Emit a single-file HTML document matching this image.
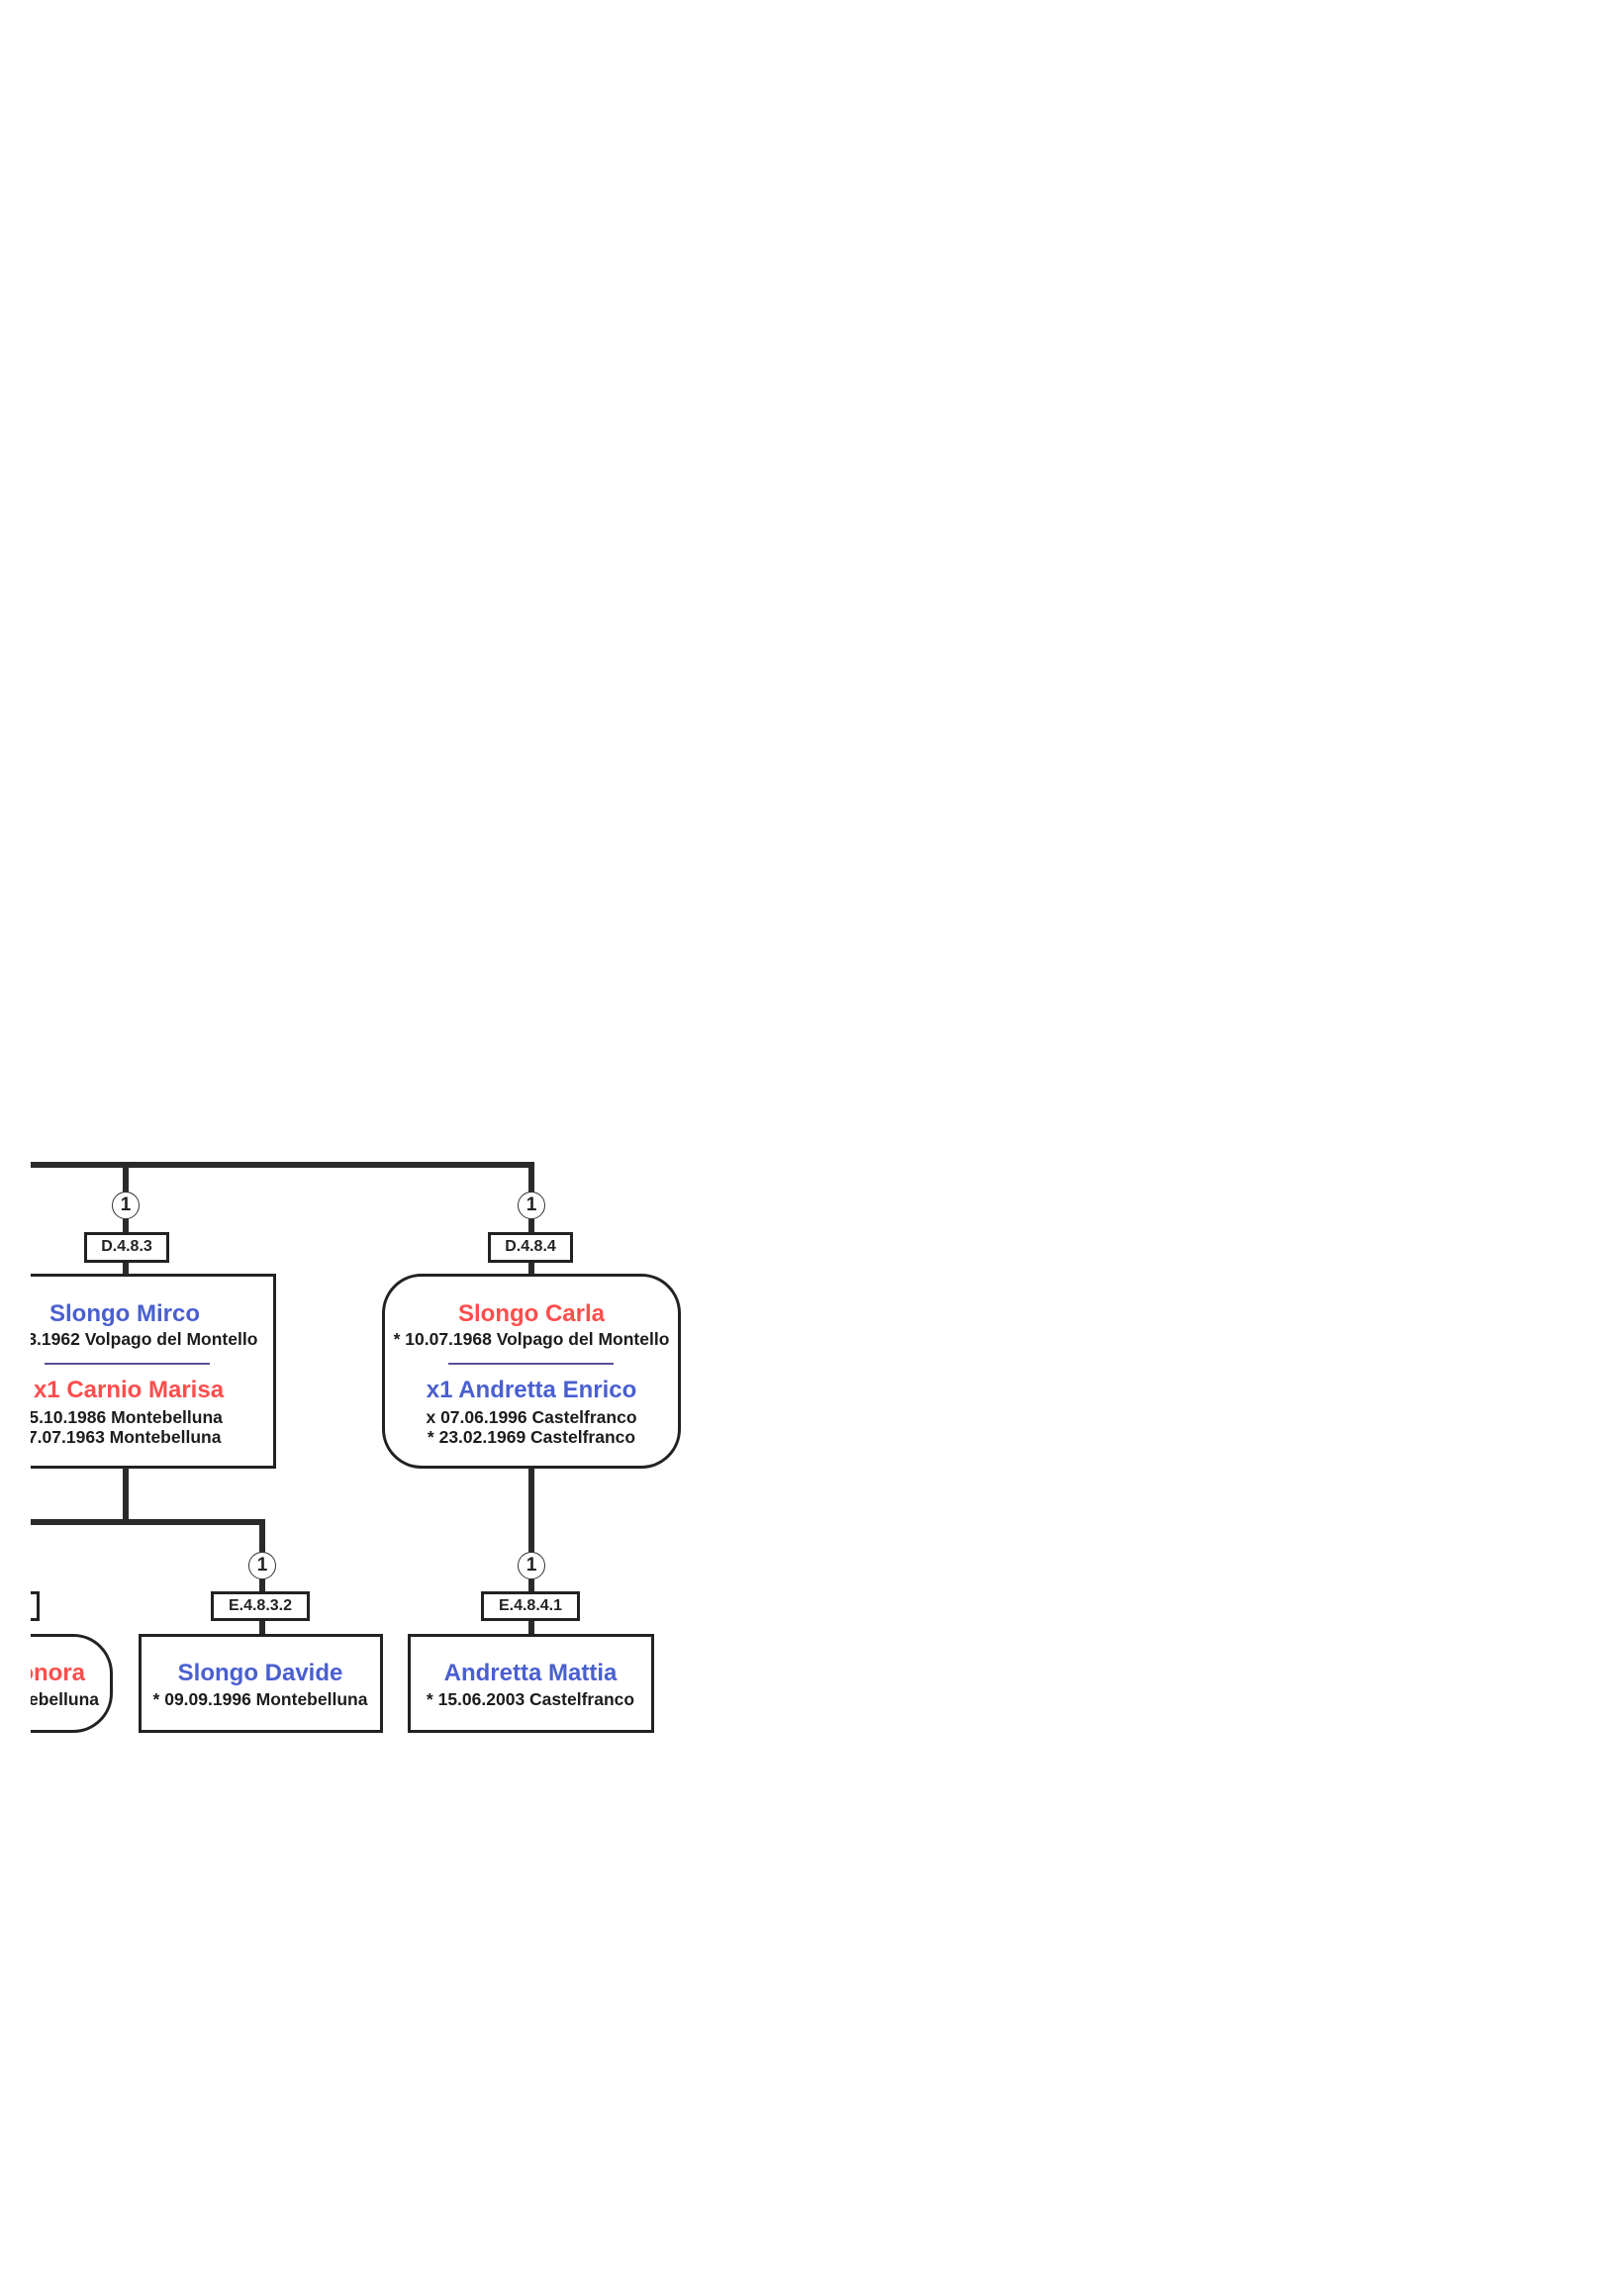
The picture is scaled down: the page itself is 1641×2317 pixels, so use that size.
<!DOCTYPE html>
<html><head><meta charset="utf-8"><style>
body{margin:0;width:1641px;height:2317px;background:#fff;position:relative;overflow:hidden;font-family:"Liberation Sans",Arial,sans-serif;}
#clip{position:absolute;left:31px;top:0;width:1610px;height:2317px;overflow:hidden;}
#in{position:absolute;left:-31px;top:0;width:1641px;height:2317px;}
.a{position:absolute;box-sizing:border-box;}
.l{position:absolute;background:#2a2a2a;}
.c{position:absolute;width:28px;height:28px;border:1.5px solid #333;border-radius:50%;background:#fff;box-sizing:border-box;font-weight:bold;font-size:19px;line-height:25px;text-align:center;color:#222;}
.lab{position:absolute;border:3px solid #222;background:#fff;box-sizing:border-box;font-weight:bold;font-size:16px;text-align:center;color:#222;}
.box{position:absolute;border:3px solid #222;background:#fff;box-sizing:border-box;}
.t{position:absolute;text-align:center;white-space:nowrap;font-weight:bold;}
.n{font-size:24px;}
.d{font-size:17.5px;color:#1c1c1c;}
.b{color:#4a5fd0;}.r{color:#ff4d4d;}
</style></head><body>
<div id="clip"><div id="in">
<div class="l" style="left:20px;top:1174px;width:520px;height:6px"></div>
<div class="l" style="left:124px;top:1174px;width:6px;height:113px"></div>
<div class="l" style="left:534px;top:1174px;width:6px;height:113px"></div>
<div class="c" style="left:113px;top:1204px">1</div>
<div class="c" style="left:523px;top:1204px">1</div>
<div class="lab" style="left:85px;top:1245px;width:86px;height:31px;line-height:24px">D.4.8.3</div>
<div class="lab" style="left:493px;top:1245px;width:86px;height:31px;line-height:24px">D.4.8.4</div>
<div class="box" style="left:-40px;top:1287px;width:319px;height:197px"></div>
<div class="t n b" style="left:-24px;width:300px;top:1314px">Slongo Mirco</div>
<div class="t d" style="left:-79px;width:400px;top:1343px">* 00.03.1962 Volpago del Montello</div>
<div class="a" style="left:45px;top:1377px;width:167px;height:1.5px;background:#5b4f9a"></div>
<div class="t n r" style="left:-20px;width:300px;top:1391px">x1 Carnio Marisa</div>
<div class="t d" style="left:-85px;width:400px;top:1422px">x 25.10.1986 Montebelluna</div>
<div class="t d" style="left:-85px;width:400px;top:1442px">* 27.07.1963 Montebelluna</div>
<div class="box" style="left:386px;top:1287px;width:302px;height:197px;border-radius:40px"></div>
<div class="t n r" style="left:387px;width:300px;top:1314px">Slongo Carla</div>
<div class="t d" style="left:337px;width:400px;top:1343px">* 10.07.1968 Volpago del Montello</div>
<div class="a" style="left:453px;top:1377px;width:167px;height:1.5px;background:#5b4f9a"></div>
<div class="t n b" style="left:387px;width:300px;top:1391px">x1 Andretta Enrico</div>
<div class="t d" style="left:337px;width:400px;top:1422px">x 07.06.1996 Castelfranco</div>
<div class="t d" style="left:337px;width:400px;top:1442px">* 23.02.1969 Castelfranco</div>
<div class="l" style="left:124px;top:1483px;width:6px;height:58px"></div>
<div class="l" style="left:20px;top:1535px;width:248px;height:6px"></div>
<div class="l" style="left:262px;top:1535px;width:6px;height:116px"></div>
<div class="l" style="left:534px;top:1483px;width:6px;height:168px"></div>
<div class="c" style="left:251px;top:1568px">1</div>
<div class="c" style="left:523px;top:1568px">1</div>
<div class="lab" style="left:213px;top:1608px;width:100px;height:30px;line-height:23px">E.4.8.3.2</div>
<div class="lab" style="left:486px;top:1608px;width:100px;height:30px;line-height:23px">E.4.8.4.1</div>
<div class="lab" style="left:-60px;top:1608px;width:100px;height:30px"></div>
<div class="box" style="left:-150px;top:1651px;width:264px;height:100px;border-radius:40px"></div>
<div class="t n r" style="left:-214px;width:300px;top:1677px;text-align:right">Eleonora</div>
<div class="t d" style="left:-200px;width:300px;top:1707px;text-align:right">* 00.00.0000 Montebelluna</div>
<div class="box" style="left:140px;top:1651px;width:247px;height:100px"></div>
<div class="t n b" style="left:113px;width:300px;top:1677px">Slongo Davide</div>
<div class="t d" style="left:63px;width:400px;top:1707px">* 09.09.1996 Montebelluna</div>
<div class="box" style="left:412px;top:1651px;width:249px;height:100px"></div>
<div class="t n b" style="left:386px;width:300px;top:1677px">Andretta Mattia</div>
<div class="t d" style="left:336px;width:400px;top:1707px">* 15.06.2003 Castelfranco</div>
</div></div>
</body></html>
